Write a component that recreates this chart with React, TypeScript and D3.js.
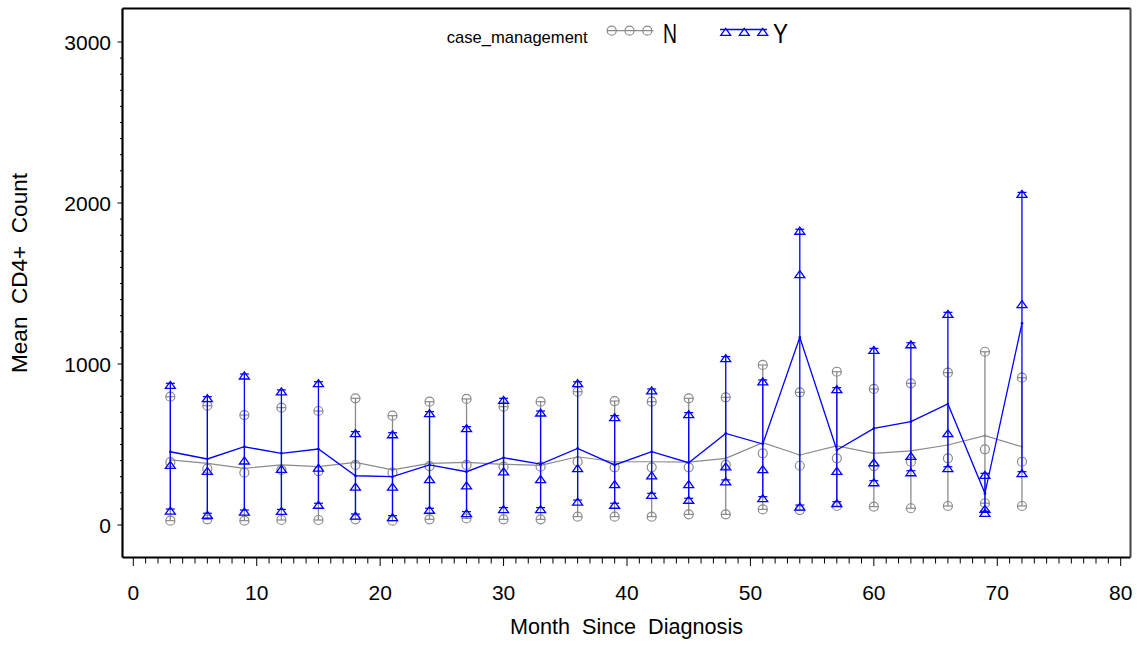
import React from "react";
import * as d3 from "d3";

const months: number[] = [3, 6, 9, 12, 15, 18, 21, 24, 27, 30, 33, 36, 39, 42, 45, 48, 51, 54, 57, 60, 63, 66, 69, 72];

// case_management = N
const nMean: number[] = [404, 383, 352, 373, 362, 389, 342, 383, 389, 377, 370, 424, 393, 393, 390, 414, 511, 435, 491, 445, 460, 497, 555, 486];
const nLow: number[] = [27, 35, 27, 31, 31, 35, 27, 35, 41, 35, 35, 52, 52, 52, 66, 66, 97, 93, 118, 114, 104, 118, 135, 118];
const nMid: number[] = [390, 350, 325, 342, 335, 373, 325, 366, 373, 362, 362, 393, 358, 358, 358, 373, 445, 368, 414, 366, 393, 414, 470, 393];
const nHigh: number[] = [797, 741, 683, 729, 708, 787, 679, 766, 783, 735, 766, 828, 770, 766, 787, 793, 994, 824, 952, 845, 880, 946, 1076, 915];

// case_management = Y
const yMean: number[] = [455, 410, 486, 445, 472, 306, 300, 373, 331, 418, 378, 476, 373, 455, 387, 569, 503, 1166, 466, 600, 642, 752, 197, 1253];
const yLow: number[] = [99, 73, 93, 97, 135, 68, 58, 104, 83, 108, 108, 155, 135, 197, 166, 280, 176, 124, 145, 275, 337, 362, 85, 331];
const yMid: number[] = [383, 346, 410, 358, 366, 248, 248, 294, 255, 342, 294, 362, 263, 317, 263, 373, 356, 1567, 346, 399, 439, 580, 110, 1381];
const yHigh: number[] = [880, 797, 938, 839, 890, 580, 573, 704, 611, 787, 708, 890, 679, 845, 698, 1046, 901, 1837, 853, 1097, 1132, 1321, 321, 2066];

const yMajor: number[] = [0, 1000, 2000, 3000];
const xMajor: number[] = [0, 10, 20, 30, 40, 50, 60, 70, 80];

const FONT = "'Liberation Sans', Arial, sans-serif";
const GRAY = "#8a8a8a";
const BLUE = "#0000ff";

const triPath = "M0,-2 L5,5 L-5,5 Z";

export default function App() {
  const x = d3.scaleLinear().domain([0, 80]).range([133.3, 1120.7]);
  const y = d3.scaleLinear().domain([0, 3000]).range([525, 42]);

  const left = 122.5, right = 1130.5, top = 8.5, bottom = 557.5;

  const yMinor = d3.range(0, 3001, 100);
  const xMinor = d3.range(0, 81, 1);

  const meanLine = (vals: number[]) =>
    d3.line<number>().x((_, i) => x(months[i])).y((v) => y(v))(vals) || "";

  const renderGroup = (
    low: number[], mid: number[], high: number[], mean: number[],
    color: string, shape: "circle" | "tri", lineW: number
  ) => (
    <g>
      {months.map((m, i) => {
        const lo = Math.min(low[i], mid[i], high[i]);
        const hi = Math.max(low[i], mid[i], high[i]);
        return (
          <g key={"v" + m}>
            <line x1={x(m)} x2={x(m)} y1={y(lo)} y2={y(hi)} stroke={color} strokeWidth={1.3} />
            <line x1={x(m) - 4.5} x2={x(m) + 4.5} y1={y(lo)} y2={y(lo)} stroke={color} strokeWidth={1.2} />
            <line x1={x(m) - 4.5} x2={x(m) + 4.5} y1={y(hi)} y2={y(hi)} stroke={color} strokeWidth={1.2} />
          </g>
        );
      })}
      <path d={meanLine(mean)} fill="none" stroke={color} strokeWidth={lineW} />
      {months.map((m, i) => (
        <circle key={"d" + m} cx={x(m)} cy={y(mean[i])} r={1.3} fill={color} />
      ))}
      {months.map((m, i) =>
        [low[i], mid[i], high[i]].map((v, j) =>
          shape === "circle" ? (
            <circle key={"c" + m + "_" + j} cx={x(m)} cy={y(v)} r={4.5} fill="none" stroke={color} strokeWidth={1.2} />
          ) : (
            <path key={"t" + m + "_" + j} d={triPath} transform={`translate(${x(m)},${y(v)})`} fill="none" stroke={color} strokeWidth={1.3} />
          )
        )
      )}
    </g>
  );

  return (
    <svg width={1137} height={656} style={{ position: "absolute", left: 0, top: 0, background: "#fff" }} fontFamily={FONT}>
      <rect x={0} y={0} width={1137} height={656} fill="#fff" />

      {/* y ticks */}
      {yMinor.map((v) => (
        <line key={"ym" + v} x1={left - (v % 1000 === 0 ? 5 : 2.5)} x2={left} y1={y(v)} y2={y(v)} stroke="#000" strokeWidth={1} />
      ))}
      {yMajor.map((v) => (
        <text key={"yl" + v} x={111} y={y(v)} dy="0.36em" textAnchor="end" fontSize={21} fill="#000">{v}</text>
      ))}

      {/* x ticks */}
      {xMinor.map((v) => (
        <line key={"xm" + v} x1={x(v)} x2={x(v)} y1={bottom} y2={bottom + (v % 10 === 0 ? 8.5 : 6)} stroke="#000" strokeWidth={1} />
      ))}
      {xMajor.map((v) => (
        <text key={"xl" + v} x={x(v)} y={599.5} textAnchor="middle" fontSize={21} fill="#000">{v}</text>
      ))}

      {/* data */}
      {renderGroup(nLow, nMid, nHigh, nMean, GRAY, "circle", 1.2)}
      {renderGroup(yLow, yMid, yHigh, yMean, BLUE, "tri", 1.3)}

      {/* frame */}
      <line x1={left} x2={right} y1={top} y2={top} stroke="#000" strokeWidth={2.2} />
      <line x1={left} x2={left} y1={top} y2={bottom} stroke="#000" strokeWidth={2.2} />
      <line x1={left} x2={right} y1={bottom} y2={bottom} stroke="#000" strokeWidth={2.2} />
      <line x1={right} x2={right} y1={top} y2={bottom} stroke="#444" strokeWidth={2} />

      {/* axis titles */}
      <text x={626.5} y={634} textAnchor="middle" fontSize={21.5} fill="#000" style={{ whiteSpace: "pre" }} textLength={233} lengthAdjust="spacingAndGlyphs">Month  Since  Diagnosis</text>
      <text transform="translate(27,273) rotate(-90)" textAnchor="middle" fontSize={21.5} fill="#000" style={{ whiteSpace: "pre" }} textLength={200} lengthAdjust="spacingAndGlyphs">Mean  CD4+  Count</text>

      {/* legend */}
      <text x={446.7} y={43} fontSize={17} fill="#000" textLength={141} lengthAdjust="spacingAndGlyphs">case_management</text>
      <line x1={607} x2={653.5} y1={30.7} y2={30.7} stroke={GRAY} strokeWidth={1.2} />
      {[611.7, 629.5, 647.3].map((cx) => (
        <circle key={"lc" + cx} cx={cx} cy={30.7} r={4.5} fill="none" stroke={GRAY} strokeWidth={1.2} />
      ))}
      <text x={663} y={43.3} fontSize={27} fill="#000" textLength={14} lengthAdjust="spacingAndGlyphs">N</text>
      <line x1={720} x2={767} y1={29.5} y2={29.5} stroke={BLUE} strokeWidth={1.3} />
      {[725.7, 744.3, 762.7].map((cx) => (
        <path key={"lt" + cx} d={triPath} transform={`translate(${cx},${30.3})`} fill="none" stroke={BLUE} strokeWidth={1.3} />
      ))}
      <text x={773} y={43.3} fontSize={27} fill="#000" textLength={15} lengthAdjust="spacingAndGlyphs">Y</text>
    </svg>
  );
}
